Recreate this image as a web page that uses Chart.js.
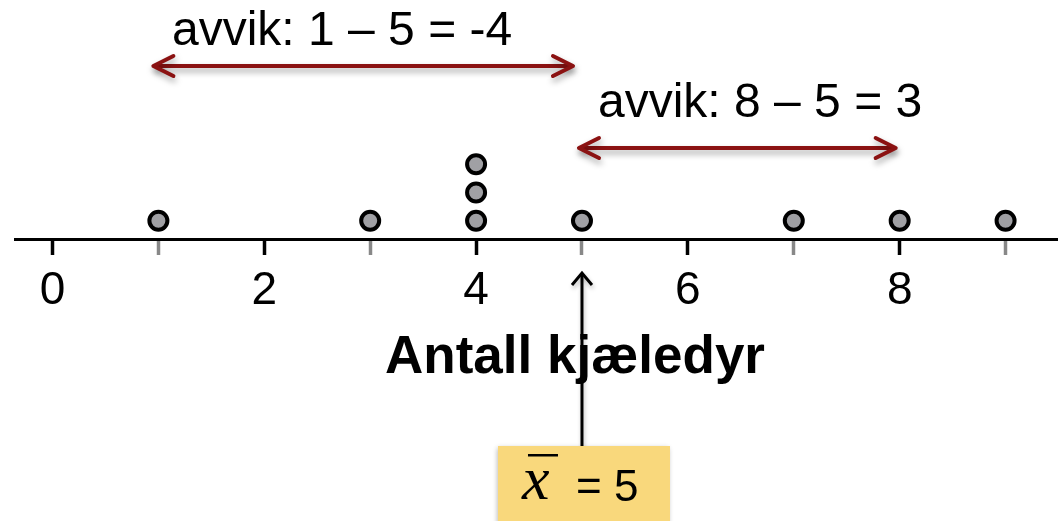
<!DOCTYPE html>
<html><head><meta charset="utf-8">
<script src="https://cdn.jsdelivr.net/npm/chart.js@4.4.0/dist/chart.umd.min.js"></script>
<style>html,body{margin:0;padding:0;background:#fff;overflow:hidden}#wrap{width:1058px;height:521px;position:relative}</style>
</head><body><div id="wrap"><canvas id="c"></canvas></div>
<script>
// ---- data ----
const values = [1, 3, 4, 4, 4, 5, 7, 8, 9];
const tickValues = [0, 1, 2, 3, 4, 5, 6, 7, 8, 9];
const tickLabels = ['0', '', '2', '', '4', '', '6', '', '8', ''];
const axisTitle = 'Antall kjæledyr';
const deviationFrom = [1, 5];
const deviationTo = [5, 8];
const deviationLabels = ['avvik: 1 – 5 = -4', 'avvik: 8 – 5 = 3'];
const meanValue = 5;
const meanLabel = '= 5';

// stack repeated values
const counts = {};
const points = values.map(v => { counts[v] = (counts[v] || 0) + 1; return { x: v, y: counts[v] }; });

const SANS = '"Liberation Sans", Arial, sans-serif';
const RED = '#8b1212';

function arrowHead(ctx, x, y, dir, len, half) {
  ctx.beginPath();
  ctx.moveTo(x - dir * len, y - half);
  ctx.lineTo(x, y);
  ctx.lineTo(x - dir * len, y + half);
  ctx.stroke();
}

const overlay = {
  id: 'overlay',
  afterDraw(chart) {
    const ctx = chart.ctx;
    const xs = chart.scales.x;
    ctx.save();
    // deviation arrows
    const arrowY = [66, 148];
    const nudgeL = [-5, -3];
    const nudgeR = [-9, -4];
    const textX = [172, 598];
    const textY = [45, 117];
    for (let i = 0; i < deviationFrom.length; i++) {
      const x1 = xs.getPixelForValue(deviationFrom[i]) + nudgeL[i];
      const x2 = xs.getPixelForValue(deviationTo[i]) + nudgeR[i];
      const y = arrowY[i];
      ctx.save();
      ctx.shadowColor = 'rgba(0,0,0,0.35)';
      ctx.shadowBlur = 6;
      ctx.shadowOffsetX = 1;
      ctx.shadowOffsetY = 4;
      ctx.strokeStyle = RED;
      ctx.lineWidth = 4;
      ctx.lineCap = 'round';
      ctx.lineJoin = 'round';
      ctx.beginPath(); ctx.moveTo(x1 + 2, y); ctx.lineTo(x2 - 2, y); ctx.stroke();
      arrowHead(ctx, x1, y, -1, 20, 10);
      arrowHead(ctx, x2, y, 1, 20, 10);
      ctx.restore();
      ctx.fillStyle = '#000';
      ctx.font = '48px ' + SANS;
      ctx.textBaseline = 'alphabetic';
      ctx.textAlign = 'left';
      ctx.fillText(deviationLabels[i], textX[i], textY[i]);
    }
    // axis title
    ctx.fillStyle = '#000';
    ctx.font = 'bold 53px ' + SANS;
    ctx.textAlign = 'center';
    ctx.fillText(axisTitle, 575, 373);
    // mean arrow
    const mx = xs.getPixelForValue(meanValue);
    ctx.save();
    ctx.shadowColor = 'rgba(0,0,0,0.25)';
    ctx.shadowBlur = 4;
    ctx.shadowOffsetX = 1;
    ctx.shadowOffsetY = 3;
    ctx.strokeStyle = '#000';
    ctx.lineWidth = 3;
    ctx.beginPath(); ctx.moveTo(mx, 447); ctx.lineTo(mx, 274); ctx.stroke();
    ctx.beginPath();
    ctx.moveTo(mx - 10, 285); ctx.lineTo(mx, 273); ctx.lineTo(mx + 10, 285);
    ctx.stroke();
    ctx.restore();
    // mean box
    ctx.save();
    ctx.shadowColor = 'rgba(0,0,0,0.3)';
    ctx.shadowBlur = 5;
    ctx.shadowOffsetX = -1;
    ctx.shadowOffsetY = 2;
    ctx.fillStyle = '#f9d87c';
    ctx.fillRect(mx - 84, 446, 172, 80);
    ctx.restore();
    ctx.fillStyle = '#000';
    ctx.font = 'italic 62px "Liberation Serif", "Times New Roman", serif';
    ctx.textAlign = 'left';
    ctx.fillText('x', mx - 60, 499);
    ctx.fillRect(mx - 54, 454, 30, 2.5);
    ctx.font = '44px ' + SANS;
    ctx.fillText(meanLabel, mx - 6, 501);
    ctx.restore();
  }
};

new Chart(document.getElementById('c'), {
  type: 'scatter',
  data: { datasets: [{
    data: points,
    pointRadius: 9,
    pointHoverRadius: 9,
    pointBorderWidth: 4,
    pointBackgroundColor: '#a0a0a4',
    pointBorderColor: '#000'
  }] },
  options: {
    responsive: true,
    maintainAspectRatio: false,
    animation: false,
    events: [],
    layout: { autoPadding: false, padding: { left: 15, right: 0, top: 0, bottom: 0 } },
    plugins: { legend: { display: false }, tooltip: { enabled: false } },
    scales: {
      x: {
        type: 'linear',
        min: -0.354,
        max: 9.495,
        afterBuildTicks: s => { s.ticks = tickValues.map(v => ({ value: v })); },
        afterFit: s => { s.height = 282; },
        border: { display: true, color: '#000', width: 3 },
        grid: {
          drawOnChartArea: false,
          drawTicks: true,
          tickLength: 16,
          tickWidth: 3.5,
          tickColor: c => (c.tick && c.tick.value % 2 === 0) ? '#000' : '#888'
        },
        ticks: {
          padding: 9,
          color: '#000',
          font: { family: SANS, size: 46 },
          maxRotation: 0,
          autoSkip: false,
          callback: (v, i) => tickLabels[i]
        }
      },
      y: {
        display: false,
        min: 0.351,
        max: 8.826
      }
    }
  },
  plugins: [overlay]
});
</script>
</body></html>
